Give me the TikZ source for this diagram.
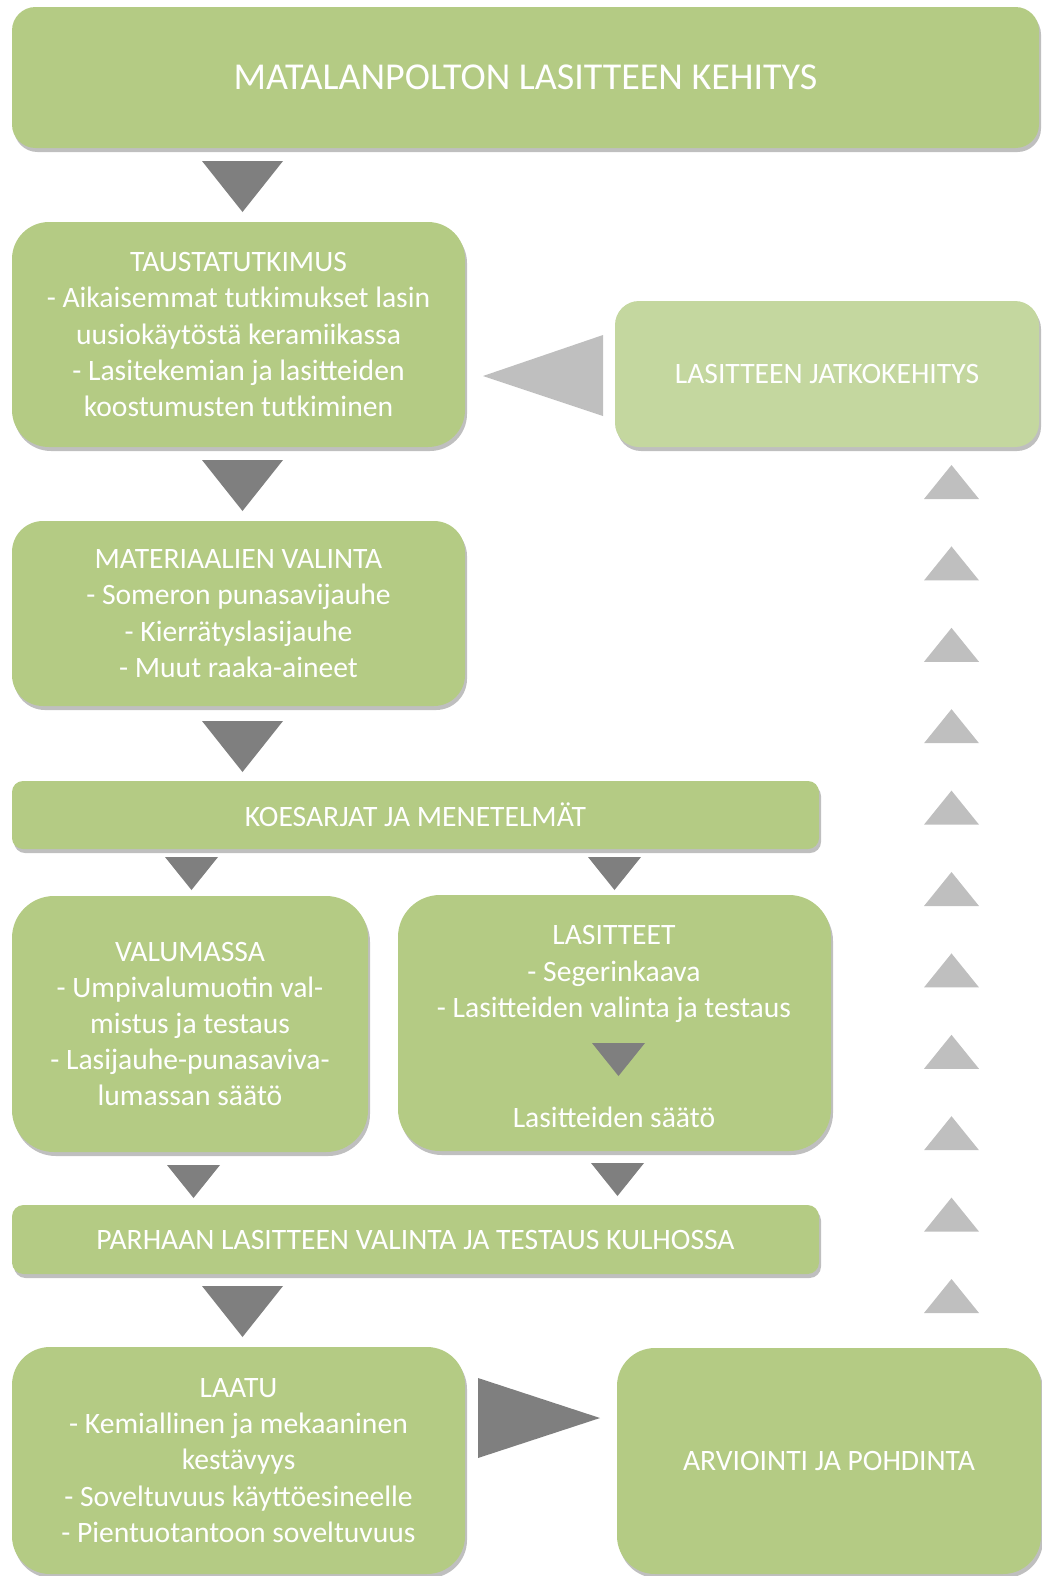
\documentclass[tikz,border=0pt]{standalone}
\usepackage{fontspec}
\setmainfont{Carlito}
\usepackage{xcolor}
\usepackage{tikz}
\usetikzlibrary{shapes, shadows, positioning, calc}
\definecolor{StepGreen}{HTML}{B4CB84}
\definecolor{StepLight}{HTML}{C4D79F}
\definecolor{ArrDark}{HTML}{7F7F7F}
\definecolor{ArrLight}{HTML}{BFBFBF}

\tikzset{
  steptext/.style={text=white, align=center, inner sep=0pt,
    font=\fontsize{14.8}{18.1}\selectfont},
  stepbox/.style={steptext, draw=none, fill=StepGreen,
    drop shadow={shadow xshift=1pt, shadow yshift=-2pt, fill=black, opacity=0.25}},
  darkarr/.style={fill=ArrDark},
  lightarr/.style={fill=ArrLight}
}

\begin{document}
\begin{tikzpicture}[x=0.5pt, y=-0.5pt]
  \useasboundingbox (0,0) rectangle (1042,1576);
  % Boxes
  \node[stepbox, minimum width=513.5pt, minimum height=70.5pt, rounded corners=11.75pt,
    font=\fontsize{19}{23}\selectfont] (title) at (525.5,77.5) {MATALANPOLTON LASITTEEN KEHITYS};
  \node[stepbox, minimum width=226.5pt, minimum height=112.5pt, rounded corners=18.5pt] (taust) at (238.5,334.5)
    {TAUSTATUTKIMUS\\- Aikaisemmat tutkimukset lasin\\uusiokäytöstä keramiikassa\\- Lasitekemian ja lasitteiden\\koostumusten tutkiminen};
  \node[stepbox, fill=StepLight, minimum width=212pt, minimum height=73pt, rounded corners=12pt] (jatko) at (827,374)
    {LASITTEEN JATKOKEHITYS};
  \node[stepbox, minimum width=226.5pt, minimum height=92.5pt, rounded corners=15.5pt] (mater) at (238.5,613.5)
    {MATERIAALIEN VALINTA\\- Someron punasavijauhe\\- Kierrätyslasijauhe\\- Muut raaka-aineet};
  \node[stepbox, minimum width=403.5pt, minimum height=34pt, rounded corners=5.5pt] (koes) at (415.5,815)
    {KOESARJAT JA MENETELMÄT};
  \node[stepbox, minimum width=178pt, minimum height=128pt, rounded corners=21pt] (valum) at (190,1024)
    {VALUMASSA\\- Umpivalumuotin val-\\mistus ja testaus\\- Lasijauhe-punasaviva-\\lumassan säätö};
  \node[stepbox, minimum width=216.5pt, minimum height=128pt, rounded corners=21pt] (lasit) at (614.5,1023) {};
  \node[steptext] (lasithead) at (614,974)
    {LASITTEET\\- Segerinkaava\\- Lasitteiden valinta ja testaus};
  \node[steptext] (lasitadj) at (614,1117) {Lasitteiden säätö};
  \node[stepbox, minimum width=403.5pt, minimum height=34.5pt, rounded corners=5.75pt] (parh) at (415.5,1239.5)
    {PARHAAN LASITTEEN VALINTA JA TESTAUS KULHOSSA};
  \node[stepbox, minimum width=226.5pt, minimum height=113.5pt, rounded corners=19pt] (laatu) at (238.5,1460.5)
    {LAATU\\- Kemiallinen ja mekaaninen\\kestävyys\\- Soveltuvuus käyttöesineelle\\- Pientuotantoon soveltuvuus};
  \node[stepbox, minimum width=212pt, minimum height=113pt, rounded corners=19pt] (arvi) at (829,1461)
    {ARVIOINTI JA POHDINTA};
  % Main arrows down
  \foreach \t in {161, 460, 721, 1286} {
    \fill[darkarr] (202,\t) -- (283,\t) -- (242.5,\t+51) -- cycle;
  }
  % Small arrows
  \foreach \x/\t in {165/857, 588/857, 592/1043, 167/1165, 591/1163} {
    \fill[darkarr] (\x,\t) -- (\x+53,\t) -- (\x+26.5,\t+33) -- cycle;
  }
  % Side arrows
  \fill[darkarr] (478,1378) -- (600,1418) -- (478,1458) -- cycle;
  \fill[lightarr] (603,335) -- (483,376) -- (603,416) -- cycle;
  % Return arrows up
  \foreach \k in {0,...,10} {
    \fill[lightarr] (924,465+81.4*\k+34) -- (951.5,465+81.4*\k) -- (979,465+81.4*\k+34) -- cycle;
  }
\end{tikzpicture}
\end{document}
